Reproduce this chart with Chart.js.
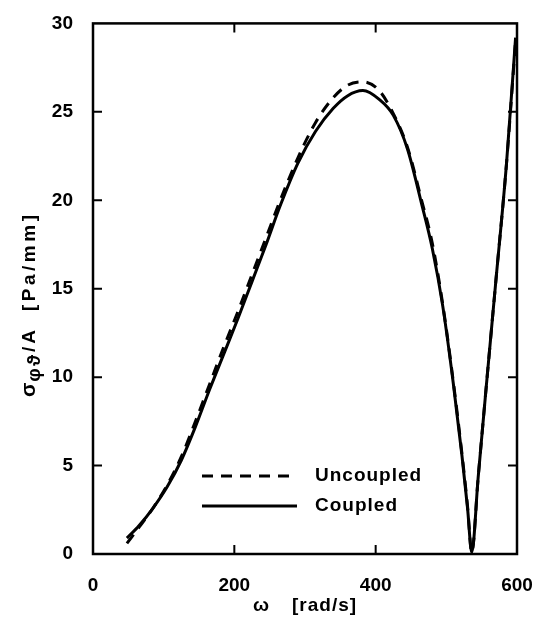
<!DOCTYPE html>
<html>
<head>
<meta charset="utf-8">
<title>Stress vs frequency</title>
<script src="https://cdn.jsdelivr.net/npm/chart.js@4.4.1/dist/chart.umd.min.js"></script>
<style>
    html, body { margin: 0; padding: 0; background: #fff; }
    #wrap { position: relative; width: 547px; height: 619px; }
</style>
</head>
<body>
<div id="wrap"><canvas id="stressChart"></canvas></div>
<script>
// Frequency samples (rad/s)
const omega = [48, 65, 85, 105, 125, 145, 165, 185, 205, 225, 245, 265, 290, 315, 340, 360, 382, 405,
    425, 445, 465, 480, 495, 510, 522, 530, 536, 545, 555, 570, 585, 598];

// Stress / amplitude (Pa/mm)
const coupled = [0.9, 1.6, 2.6, 3.8, 5.3, 7.2, 9.3, 11.3, 13.3, 15.4, 17.5, 19.7, 22.1, 23.9, 25.2, 25.9, 26.2, 25.7,
    24.8, 22.9, 19.8, 17.3, 14.0, 9.6, 5.6, 2.6, 0.1, 4.3, 8.8, 15.4, 22.0, 29.2];
const uncoupled = [0.6, 1.5, 2.6, 3.9, 5.5, 7.5, 9.6, 11.7, 13.7, 15.8, 17.9, 20.0, 22.4, 24.4, 25.8, 26.5, 26.7, 26.2,
    24.9, 23.0, 20.0, 17.6, 14.1, 9.7, 5.7, 2.7, 0.1, 4.3, 8.8, 15.4, 22.0, 29.0];

const xTicks = [0, 200, 400, 600];
const yTicks = [0, 5, 10, 15, 20, 25, 30];
const seriesNames = ['Uncoupled', 'Coupled'];

const FONT = '"Liberation Sans", Arial, Helvetica, sans-serif';

function toPoints(ys) {
    return omega.map((x, i) => ({ x: x, y: ys[i] }));
}

// draw a text piece and return the x where the next one starts
function piece(ctx, text, x, y, font, spacing) {
    ctx.font = font;
    ctx.letterSpacing = spacing + 'px';
    ctx.fillText(text, x, y);
    return x + ctx.measureText(text).width;
}

// Frame, inward ticks, axis titles and legend
const decorPlugin = {
    id: 'decor',
    afterDraw(chart) {
        const ctx = chart.ctx;
        const a = chart.chartArea;
        const xs = chart.scales.x;
        const ys = chart.scales.y;
        const tickLen = 9;

        ctx.save();
        ctx.strokeStyle = '#000';
        ctx.lineWidth = 2.5;
        ctx.strokeRect(a.left, a.top, a.right - a.left, a.bottom - a.top);

        // inward ticks on all four sides
        ctx.lineWidth = 2;
        ctx.beginPath();
        xTicks.slice(1, -1).forEach(v => {
            const px = xs.getPixelForValue(v);
            ctx.moveTo(px, a.bottom); ctx.lineTo(px, a.bottom - tickLen);
            ctx.moveTo(px, a.top); ctx.lineTo(px, a.top + tickLen);
        });
        yTicks.slice(1, -1).forEach(v => {
            const py = ys.getPixelForValue(v);
            ctx.moveTo(a.left, py); ctx.lineTo(a.left + tickLen, py);
            ctx.moveTo(a.right, py); ctx.lineTo(a.right - tickLen, py);
        });
        ctx.stroke();

        ctx.fillStyle = '#000';

        // x title
        ctx.font = 'bold 19px ' + FONT;
        ctx.textBaseline = 'middle';
        ctx.textAlign = 'center';
        ctx.fillText('ω', 261, 606);
        ctx.textAlign = 'left';
        ctx.letterSpacing = '1px';
        ctx.fillText('[rad/s]', 292, 606);

        // y title, rotated, with subscript
        ctx.translate(28, 397);
        ctx.rotate(-Math.PI / 2);
        ctx.textAlign = 'left';
        ctx.textBaseline = 'alphabetic';
        let cx = 0;
        cx = piece(ctx, 'σ', cx, 7, 'bold 21px ' + FONT, 0) + 1;
        cx = piece(ctx, 'φϑ', cx, 12, 'bold 19px ' + FONT, 2) + 1;
        cx = piece(ctx, '/A', cx, 7, 'bold 19px ' + FONT, 3) + 16;
        piece(ctx, '[Pa/mm]', cx, 7, 'bold 19px ' + FONT, 3.5);
        ctx.setTransform(1, 0, 0, 1, 0, 0);

        // legend drawn from dataset styles
        const rows = [476, 506];
        chart.data.datasets.forEach((ds, i) => {
            const y = rows[i];
            ctx.beginPath();
            ctx.lineWidth = 3;
            ctx.setLineDash(ds.borderDash || []);
            ctx.moveTo(202, y);
            ctx.lineTo(297, y);
            ctx.stroke();
            ctx.setLineDash([]);
            ctx.font = 'bold 19px ' + FONT;
            ctx.letterSpacing = '1px';
            ctx.textAlign = 'left';
            ctx.textBaseline = 'middle';
            ctx.fillText(ds.label, 315, y);
        });
        ctx.restore();
    }
};

new Chart(document.getElementById('stressChart'), {
    type: 'line',
    data: {
        datasets: [
            {
                label: seriesNames[0],
                data: toPoints(uncoupled),
                borderColor: '#000',
                borderWidth: 3,
                borderDash: [11, 8],
                pointRadius: 0,
                cubicInterpolationMode: 'monotone',
                fill: false
            },
            {
                label: seriesNames[1],
                data: toPoints(coupled),
                borderColor: '#000',
                borderWidth: 3,
                pointRadius: 0,
                cubicInterpolationMode: 'monotone',
                fill: false
            }
        ]
    },
    options: {
        responsive: true,
        maintainAspectRatio: false,
        animation: false,
        layout: { padding: { top: 16, right: 30, left: 0, bottom: 0 } },
        plugins: {
            legend: { display: false },
            tooltip: { enabled: false }
        },
        scales: {
            x: {
                type: 'linear',
                min: 0,
                max: 600,
                afterFit: s => { s.height = 65; },
                afterBuildTicks: s => { s.ticks = xTicks.map(v => ({ value: v })); },
                grid: { display: false },
                border: { display: false },
                ticks: {
                    color: '#000',
                    padding: 12,
                    maxRotation: 0,
                    font: { family: FONT, size: 19, weight: 'bold' }
                }
            },
            y: {
                min: 0,
                max: 30,
                afterFit: s => { s.width = 93; },
                afterBuildTicks: s => { s.ticks = yTicks.map(v => ({ value: v })); },
                grid: { display: false },
                border: { display: false },
                ticks: {
                    color: '#000',
                    padding: 12,
                    font: { family: FONT, size: 19, weight: 'bold' }
                }
            }
        }
    },
    plugins: [decorPlugin]
});
</script>
</body>
</html>
